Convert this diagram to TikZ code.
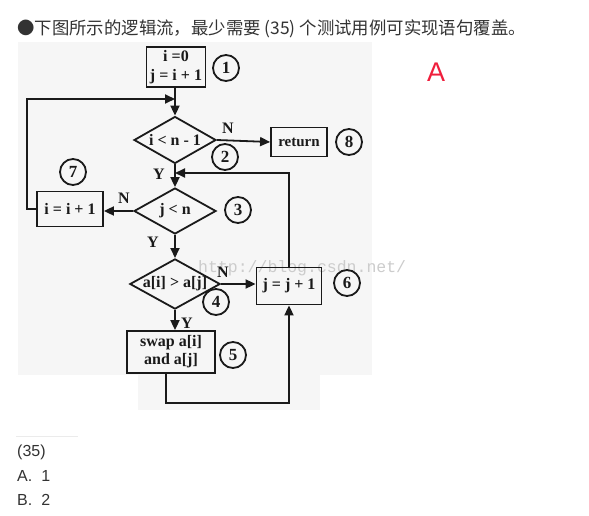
\documentclass[tikz,border=0pt]{standalone}
\usepackage{fontspec}
\setmainfont{Liberation Serif}
\newfontfamily\cjk{Noto Sans CJK SC}
\newfontfamily\arialf{Liberation Sans}
\newfontfamily\monof{Liberation Mono}
\usetikzlibrary{shapes.geometric,arrows.meta}
\definecolor{ink}{HTML}{1A1A1A}
\definecolor{txt}{HTML}{333333}
\definecolor{scan}{HTML}{F6F6F6}
\tikzset{
  ln/.style={draw=ink, line width=1.8pt},
  arr/.style={ln, -{Triangle[length=10pt,width=9pt]}},
  stepbox/.style={ln, rectangle, align=center, inner sep=1pt, font=\fontsize{16}{19}\selectfont\bfseries, text=ink},
  dec/.style={ln, diamond, inner sep=0pt, shape aspect=2.4, font=\fontsize{16}{16}\selectfont\bfseries, text=ink},
  num/.style={ln, circle, minimum size=26pt, inner sep=0pt, font=\fontsize{17}{17}\selectfont\bfseries, text=ink},
  lab/.style={font=\fontsize{16}{16}\selectfont\bfseries, text=ink, inner sep=0pt},
  opt/.style={font=\arialf\fontsize{16}{16}\selectfont, text=txt, anchor=west, inner sep=0pt}
}
\begin{document}
\begin{tikzpicture}[x=1pt,y=-1pt]
\useasboundingbox (0,0) rectangle (589,516);
\fill[white] (0,0) rectangle (589,516);
% scanned background
\fill[scan] (18,42) rectangle (372,375);
\fill[scan] (138,375) rectangle (320,410);
% title
\node[anchor=west, inner sep=0pt, text=txt, font=\cjk\fontsize{17.4}{18}\selectfont] (title) at (17,29) {●下图所示的逻辑流，最少需要 (35) 个测试用例可实现语句覆盖。};
\node[font=\arialf\fontsize{27}{27}\selectfont, text={rgb,255:red,240;green,30;blue,60}, inner sep=0pt] (ans) at (436,72) {A};
% watermark
\node[anchor=west, inner sep=0pt, text=black!20, font=\monof\fontsize{16.5}{16.5}\selectfont] (wm) at (198,268) {http://blog.csdn.net/};
% flowchart nodes
\node[stepbox, minimum width=59pt, minimum height=40pt] (b1) at (176,67) {i =0\\j = i + 1};
\node[num] (c1) at (226,68) {1};
\node[dec, minimum width=82pt, minimum height=47pt] (d2) at (175,140) {i < n - 1};
\node[num] (c2) at (225,157) {2};
\node[stepbox, minimum width=56pt, minimum height=29pt] (ret) at (299,142) {\fontsize{15}{15}\selectfont return};
\node[num] (c8) at (349,142) {8};
\node[dec, minimum width=82pt, minimum height=46pt] (d3) at (175,211) {j < n};
\node[num] (c3) at (238,210) {3};
\node[stepbox, minimum width=66pt, minimum height=35pt] (b7) at (70,209) {i = i + 1};
\node[num] (c7) at (73,172) {7};
\node[dec, shape aspect=1.8, minimum width=90pt, minimum height=47pt] (d4) at (175,284) {a[i] > a[j]};
\node[num] (c4) at (216,302) {4};
\node[stepbox, minimum width=65pt, minimum height=37pt] (b6) at (289,286) {j = j + 1};
\node[num] (c6) at (347,283) {6};
\node[stepbox, minimum width=88pt, minimum height=42pt, font=\fontsize{16}{18}\selectfont\bfseries] (b5) at (171,352) {swap a[i]\\and a[j]};
\node[num] (c5) at (233,355) {5};
% labels
\node[lab] (n2) at (228,128) {N};
\node[lab] (y2) at (159,174) {Y};
\node[lab] (n3) at (124,198) {N};
\node[lab] (y3) at (153,242) {Y};
\node[lab] (n4) at (223,272) {N};
\node[lab] (y4) at (187,323) {Y};
% junctions
\coordinate (j1) at (175,99);
\coordinate (j2) at (175,173);
% connectors
\draw[arr] (b1.south -| d2.north) -- (d2.north);
\draw[arr] (b7.west) -- ++(-9,0) |- (j1);
\draw[arr] (d2.east) -- (ret.west);
\draw[arr] (d2.south) -- (d3.north);
\draw[arr] (b6.north) |- (j2);
\draw[arr] (d3.west) -- (d3.west -| b7.east);
\draw[arr] (d3.south) -- (d4.north);
\draw[arr] (d4.east) -- (d4.east -| b6.west);
\draw[arr] (d4.south) -- (d4.south |- b5.north);
\draw[arr] (b5.south -| 166,0) -- (166,403) -| (b6.south);
% bottom question
\draw[black!8, line width=0.8pt] (16,436) -- (78,436);
\node[opt] (q) at (17,452) {(35)};
\node[opt] (oa) at (17,476) {A.\hspace{9pt}1};
\node[opt] (ob) at (17,500) {B.\hspace{9pt}2};
\end{tikzpicture}
\end{document}
